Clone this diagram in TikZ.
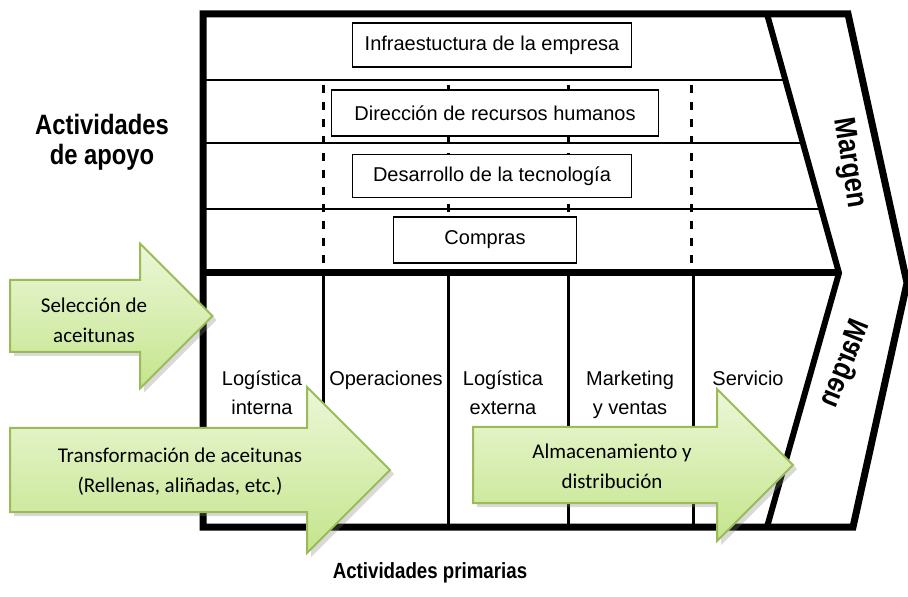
\documentclass[tikz,border=0pt]{standalone}
\usepackage{fontspec}
\setmainfont{Liberation Sans}
\newfontfamily\carlito{Carlito}
\newfontfamily\negrita[FakeStretch=0.85]{Liberation Sans}
\usetikzlibrary{shadows}
\definecolor{verdeborde}{RGB}{155,187,89}
\definecolor{verdearriba}{RGB}{236,247,216}
\definecolor{verdeabajo}{RGB}{196,229,140}
\tikzset{
  marco/.style={line width=3.5pt},
  fila/.style={line width=0.8pt},
  columna/.style={line width=1.5pt},
  punteada/.style={line width=1.5pt,dash pattern=on 4pt off 4.5pt},
  caja/.style={draw,line width=0.8pt,fill=white,inner sep=0pt,font=\fontsize{10}{12}\selectfont},
  actividad/.style={anchor=north,align=center,font=\fontsize{10}{14.5}\selectfont},
  titulo/.style={align=center,font=\negrita\bfseries\fontsize{14}{15}\selectfont},
  margen/.style={font=\negrita\bfseries\fontsize{15}{15}\selectfont},
  flecha/.style={draw=verdeborde,line width=1pt,top color=verdearriba,bottom color=verdeabajo,
    drop shadow={shadow xshift=2pt,shadow yshift=-2pt,opacity=0.3}},
  textoflecha/.style={align=center,font=\carlito\fontsize{10.5}{15}\selectfont}
}
\begin{document}
\begin{tikzpicture}[x=0.5pt,y=-0.5pt]
    \useasboundingbox (0,0) rectangle (908,597);
    \foreach \x in {323,448,568,691}
      \draw[punteada] (\x,85) -- (\x,271);
    \draw[fila] (206,80) -- (785,80);
    \draw[fila] (206,143) -- (803,143);
    \draw[fila] (206,209) -- (821,209);
    \foreach \x in {323,448,568,693}
      \draw[columna] (\x,273) -- (\x,527);
    \draw[line width=3.5pt] (203,273) -- (839,273);
    \draw[marco] (203,14) -- (848,14) -- (907,283) -- (853,527) -- (203,527) -- cycle;
    \draw[line width=3pt] (767,14) -- (839,273) -- (767,527);
    \node[caja,minimum width=139.5pt,minimum height=22pt] (infra) at (492,45) {Infraestuctura de la empresa};
    \node[caja,minimum width=163.5pt,minimum height=23pt] (rrhh) at (495,113) {Dirección de recursos humanos};
    \node[caja,minimum width=139.5pt,minimum height=21.5pt] (tecno) at (492,176) {Desarrollo de la tecnología};
    \node[caja,minimum width=91.5pt,minimum height=23pt] (compras) at (485,240) {Compras};
    \node[actividad] (logint) at (262,364) {Logística\\interna};
    \node[actividad] (oper) at (386,364) {Operaciones};
    \node[actividad] (logext) at (503,364) {Logística\\externa};
    \node[actividad] (mkt) at (630,364) {Marketing\\y ventas};
    \node[actividad] (serv) at (748,364) {Servicio};
    \node[margen,rotate=-81] (margen1) at (849,163) {Margen};
    \node[margen,rotate=68,xscale=-1] (margen2) at (846,364) {Margen};
    \node[titulo] (apoyo) at (102,142) {Actividades\\de apoyo};
    \node[titulo,font=\negrita\bfseries\fontsize{11}{13}\selectfont] (primarias) at (430,573) {Actividades primarias};
    \path[flecha] (10,280) -- (140,280) -- (140,243.5) -- (212.5,316) -- (140,388.5) -- (140,352) -- (10,352) -- cycle;
    \node[textoflecha] (seleccion) at (94,320) {Selección de\\aceitunas};
    \path[flecha] (10,428) -- (307,428) -- (307,387) -- (390,470) -- (307,553) -- (307,512) -- (10,512) -- cycle;
    \node[textoflecha] (transf) at (180,472) {Transformación de aceitunas\\(Rellenas, aliñadas, etc.)};
    \path[flecha] (473,427) -- (717,427) -- (717,389) -- (793,465) -- (717,541) -- (717,503) -- (473,503) -- cycle;
    \node[textoflecha] (almac) at (612,466) {Almacenamiento y\\distribución};
\end{tikzpicture}
\end{document}
